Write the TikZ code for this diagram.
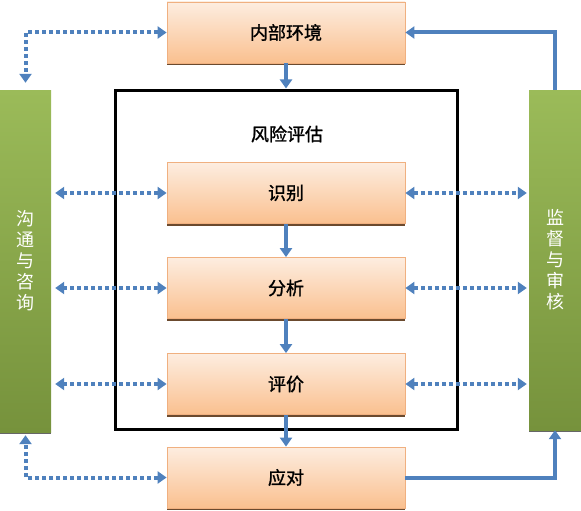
\documentclass[tikz,border=0pt]{standalone}
\usepackage{fontspec}
\newfontfamily\cjk{Noto Sans CJK SC}
\newfontfamily\cjkb{Noto Sans CJK SC}[FakeBold=1.3]
\usetikzlibrary{arrows.meta,shadows}
\definecolor{arrowblue}{HTML}{4F81BD}
\definecolor{boxtop}{HTML}{FDEDE0}
\definecolor{boxbot}{HTML}{FAC08F}
\definecolor{boxline}{HTML}{F0B080}
\definecolor{greentop}{HTML}{9BBB59}
\definecolor{greenbot}{HTML}{76923C}
\definecolor{shadowc}{HTML}{6B4A2E}
\tikzset{
  stepbox/.style={rectangle, draw=boxline, line width=0.8pt, top color=boxtop, bottom color=boxbot,
    minimum width=238pt, minimum height=61pt, inner sep=0pt,
    font=\cjkb\fontsize{18}{20}\selectfont,
    drop shadow={shadow xshift=0pt, shadow yshift=-2pt, fill=shadowc, opacity=1}},
  sidebar/.style={rectangle, draw=none, top color=greentop, bottom color=greenbot,
    minimum width=51pt, minimum height=342pt, inner sep=0pt, text=white, align=center,
    font=\cjk\fontsize{18}{21}\selectfont,
    drop shadow={shadow xshift=0pt, shadow yshift=-1.5pt, fill=black!60, opacity=1}},
  solidarrow/.style={draw=arrowblue, line width=4pt, -{Triangle[width=12pt,length=9pt]}},
  dotarrow/.style={draw=arrowblue, line width=4pt, dash pattern=on 4pt off 3pt,
    {Triangle[width=12pt,length=9pt]}-{Triangle[width=12pt,length=9pt]}}
}
\begin{document}
\begin{tikzpicture}[x=1pt,y=-1pt]
\useasboundingbox (0,0) rectangle (581,511);
% frame
\node[draw, line width=3pt, minimum width=342pt, minimum height=339pt, inner sep=0pt] (frame) at (286,259.5) {};
\node[font=\cjkb\fontsize{18}{20}\selectfont] (title) at (287,134) {风险评估};
% boxes
\node[stepbox] (env) at (286,32.5) {内部环境};
\node[stepbox] (ident) at (286,193) {识别};
\node[stepbox] (anal) at (286,288) {分析};
\node[stepbox] (eval) at (286,384) {评价};
\node[stepbox] (resp) at (286,477.5) {应对};
% side bars
\node[sidebar] (left) at (25.5,261) {沟\\通\\与\\咨\\询};
\node[sidebar, minimum width=52pt, minimum height=340pt] (right) at (555,260) {监\\督\\与\\审\\核};
% solid arrows
\draw[solidarrow] (env.south) -- (frame.north);
\draw[solidarrow] (ident.south) -- (anal.north);
\draw[solidarrow] (anal.south) -- (eval.north);
\draw[solidarrow] (eval.south) -- (resp.north);
\draw[solidarrow] (resp.east) -| (right.south);
\draw[solidarrow] (right.north) |- (env.east);
% dotted arrows
\draw[dotarrow, shorten >=7pt] (env.west) -| (left.north);
\draw[dotarrow, shorten >=3pt] (resp.west) -| (left.south);
\draw[dotarrow, shorten >=4pt] (ident.west) -- (ident.west -| left.east);
\draw[dotarrow, shorten >=4pt] (anal.west) -- (anal.west -| left.east);
\draw[dotarrow, shorten >=4pt] (eval.west) -- (eval.west -| left.east);
\draw[dotarrow, shorten >=2pt] (ident.east) -- (ident.east -| right.west);
\draw[dotarrow, shorten >=2pt] (anal.east) -- (anal.east -| right.west);
\draw[dotarrow, shorten >=2pt] (eval.east) -- (eval.east -| right.west);
\end{tikzpicture}
\end{document}
